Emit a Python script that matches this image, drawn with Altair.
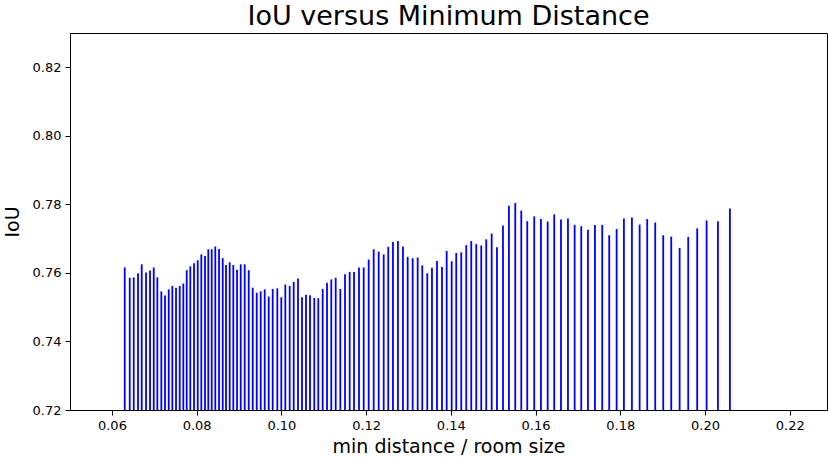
import altair as alt
import pandas as pd

min_dist = [
    0.06302, 0.06420, 0.06515, 0.06616, 0.06703, 0.06805, 0.06899, 0.06987, 0.07072, 0.07166,
    0.07253, 0.07341, 0.07426, 0.07513, 0.07600, 0.07685, 0.07765, 0.07850, 0.07938, 0.08025,
    0.08110, 0.08197, 0.08275, 0.08355, 0.08440, 0.08528, 0.08615, 0.08693, 0.08780, 0.08865,
    0.08953, 0.09040, 0.09134, 0.09229, 0.09323, 0.09418, 0.09512, 0.09606, 0.09701, 0.09795,
    0.09904, 0.09998, 0.10093, 0.10196, 0.10291, 0.10392, 0.10487, 0.10581, 0.10676, 0.10777,
    0.10871, 0.10975, 0.11077, 0.11178, 0.11282, 0.11391, 0.11502, 0.11612, 0.11714, 0.11832,
    0.11943, 0.12061, 0.12179, 0.12297, 0.12415, 0.12523, 0.12634, 0.12752, 0.12870, 0.12981,
    0.13099, 0.13217, 0.13326, 0.13444, 0.13555, 0.13673, 0.13791, 0.13902, 0.14020, 0.14128,
    0.14246, 0.14364, 0.14482, 0.14600, 0.14718, 0.14836, 0.14964, 0.15089, 0.15231, 0.15372,
    0.15521, 0.15663, 0.15804, 0.15969, 0.16127, 0.16286, 0.16441, 0.16600, 0.16765, 0.16923,
    0.17079, 0.17237, 0.17402, 0.17574, 0.17739, 0.17914, 0.18086, 0.18275, 0.18457, 0.18636,
    0.18825, 0.19014, 0.19203, 0.19401, 0.19604, 0.19816, 0.20038, 0.20305, 0.20588,
]

iou = [
    0.7616, 0.7586, 0.7587, 0.7599, 0.7625, 0.7601, 0.7607, 0.7616, 0.7587, 0.7546,
    0.7534, 0.7552, 0.7562, 0.7557, 0.7562, 0.7569, 0.7608, 0.7619, 0.7628, 0.7637,
    0.7654, 0.7649, 0.7669, 0.7669, 0.7677, 0.7670, 0.7643, 0.7623, 0.7631, 0.7623,
    0.7609, 0.7625, 0.7625, 0.7608, 0.7557, 0.7542, 0.7546, 0.7552, 0.7531, 0.7553,
    0.7555, 0.7529, 0.7566, 0.7562, 0.7574, 0.7584, 0.7529, 0.7536, 0.7535, 0.7527,
    0.7526, 0.7553, 0.7571, 0.7581, 0.7586, 0.7553, 0.7596, 0.7603, 0.7603, 0.7616,
    0.7616, 0.7639, 0.7669, 0.7662, 0.7654, 0.7676, 0.7690, 0.7693, 0.7677, 0.7647,
    0.7643, 0.7645, 0.7622, 0.7599, 0.7615, 0.7635, 0.7617, 0.7664, 0.7634, 0.7658,
    0.7660, 0.7681, 0.7693, 0.7684, 0.7680, 0.7698, 0.7715, 0.7675, 0.7738, 0.7796,
    0.7804, 0.7782, 0.7751, 0.7765, 0.7757, 0.7750, 0.7771, 0.7756, 0.7759, 0.7740,
    0.7736, 0.7726, 0.7740, 0.7740, 0.7710, 0.7728, 0.7759, 0.7762, 0.7741, 0.7757,
    0.7747, 0.7710, 0.7706, 0.7673, 0.7705, 0.7730, 0.7753, 0.7751, 0.7788,
]

x_ticks = [0.06, 0.08, 0.10, 0.12, 0.14, 0.16, 0.18, 0.20, 0.22]
y_ticks = [0.72, 0.74, 0.76, 0.78, 0.80, 0.82]

df = pd.DataFrame({"d": min_dist, "iou": iou})

FONT = "DejaVu Sans"

chart = alt.Chart(df).mark_bar(size=1.8, color="#0000ff", clip=True).encode(
    x=alt.X("d:Q",
            scale=alt.Scale(domain=[0.0501, 0.2288], nice=False, zero=False, padding=0),
            axis=alt.Axis(values=x_ticks, format=".2f", title="min distance / room size",
                          grid=False, domainColor="black", tickColor="black",
                          tickSize=5, labelFontSize=13, labelFont=FONT, labelColor="black",
                          labelPadding=4, titleFont=FONT, titleFontSize=19,
                          titleFontWeight="normal", titleColor="black", titlePadding=5)),
    y=alt.Y("iou:Q",
            scale=alt.Scale(domain=[0.72, 0.83], nice=False, zero=False),
            axis=alt.Axis(values=y_ticks, format=".2f", title="IoU",
                          grid=False, domainColor="black", tickColor="black",
                          tickSize=5, labelFontSize=13, labelFont=FONT, labelColor="black",
                          labelPadding=4, titleFont=FONT, titleFontSize=19,
                          titleFontWeight="normal", titleColor="black", titlePadding=10)),
    y2=alt.datum(0.72),
).properties(
    width=757,
    height=377,
    padding={"left": 70, "top": 33, "right": 1, "bottom": 50},
    autosize=alt.AutoSizeParams(type="none"),
    background="white",
    title=alt.Title("IoU versus Minimum Distance", font=FONT, fontSize=27,
                    fontWeight="normal", color="black", anchor="middle",
                    baseline="bottom", offset=0, dy=25),
).configure_view(
    stroke="black", strokeWidth=1
)

chart.save("out.html", embed_options={"renderer": "svg", "actions": False})
